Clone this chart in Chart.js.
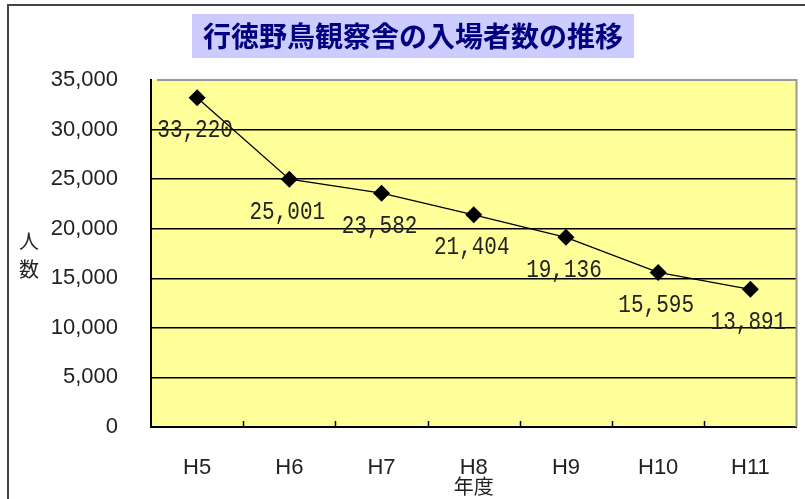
<!DOCTYPE html>
<html>
<head>
<meta charset="utf-8">
<script src="https://cdn.jsdelivr.net/npm/chart.js@4.4.0/dist/chart.umd.min.js"></script>
<style>
  html, body { margin: 0; padding: 0; background: #fff; }
  #wrap { position: relative; width: 805px; height: 499px; overflow: hidden; }
  #frame { position: absolute; left: 7px; top: 4px; width: 900px; height: 600px;
           border-left: 2px solid #444; border-top: 2px solid #444; pointer-events: none; }
  canvas { position: absolute; left: 0; top: 0; }
</style>
</head>
<body>
<div id="wrap">
  <canvas id="visitorChart" width="805" height="499"></canvas>
  <div id="frame"></div>
</div>
<script>
// 年度と入場者数
const years = ['H5', 'H6', 'H7', 'H8', 'H9', 'H10', 'H11'];
const visitors = [33220, 25001, 23582, 21404, 19136, 15595, 13891];
const yTicks = [0, 5000, 10000, 15000, 20000, 25000, 30000, 35000];

const chartTitle = '行徳野鳥観察舎の入場者数の推移';
const yTitle = ['人', '数'];
const xTitle = '年度';

function fmt(v) {
    return Number(v).toLocaleString('en-US');
}

// 背景・枠・タイトル・ラベルを描くプラグイン
const decorPlugin = {
    id: 'decor',
    beforeDraw(chart) {
        const c = chart.ctx, a = chart.chartArea;
        c.save();
        c.fillStyle = '#ffff99';
        c.fillRect(a.left, a.top, a.right - a.left, a.bottom - a.top);
        c.restore();
    },
    afterDatasetsDraw(chart) {
        const c = chart.ctx, a = chart.chartArea;
        const xs = chart.scales.x;
        c.save();
        // 右と上の枠
        c.strokeStyle = '#999';
        c.lineWidth = 2;
        c.beginPath();
        c.moveTo(a.left + 6, a.top);
        c.lineTo(a.right, a.top);
        c.lineTo(a.right, a.bottom);
        c.stroke();
        // 区切りの目盛り（内側）
        c.strokeStyle = '#000';
        c.lineWidth = 1.5;
        for (let i = 1; i < years.length; i++) {
            const px = Math.round(xs.getPixelForValue(i - 0.5)) + 0.5;
            c.beginPath();
            c.moveTo(px, a.bottom);
            c.lineTo(px, a.bottom - 6);
            c.stroke();
        }
        // データラベル
        const meta = chart.getDatasetMeta(0);
        c.fillStyle = '#222';
        c.font = '25px "Liberation Mono"';
        c.textAlign = 'center';
        c.textBaseline = 'middle';
        meta.data.forEach(function(pt, i) {
            c.save();
            c.translate(pt.x - 2, pt.y + 33);
            c.scale(0.84, 1);
            c.fillText(fmt(visitors[i]), 0, 0);
            c.restore();
        });
        c.restore();
    },
    afterDraw(chart) {
        const c = chart.ctx, a = chart.chartArea;
        c.save();
        // タイトル
        c.font = 'bold 28px "Noto Sans CJK JP"';
        c.textAlign = 'center';
        c.textBaseline = 'middle';
        const cx = 413, cy = 36;
        const w = c.measureText(chartTitle).width + 22;
        c.fillStyle = '#ccccff';
        c.fillRect(cx - w / 2, 14, w, 44);
        c.fillStyle = '#000080';
        c.fillText(chartTitle, cx, cy);
        // 軸タイトル
        c.fillStyle = '#222';
        c.font = '20px "Noto Sans CJK JP"';
        c.fillText(yTitle[0], 29, 241);
        c.fillText(yTitle[1], 29, 269);
        c.fillText(xTitle, (a.left + a.right) / 2, 486);
        c.restore();
    }
};

const ctx = document.getElementById('visitorChart').getContext('2d');
const visitorChart = new Chart(ctx, {
    type: 'line',
    data: {
        labels: years,
        datasets: [{
            label: '入場者数',
            data: visitors,
            borderColor: '#000',
            borderWidth: 1.3,
            pointStyle: 'rectRot',
            pointRadius: 8.5,
            pointBackgroundColor: '#000',
            pointBorderColor: '#000',
            pointBorderWidth: 0,
            tension: 0,
            fill: false
        }]
    },
    options: {
        responsive: false,
        animation: false,
        layout: { padding: { left: 0, right: 6, top: 80, bottom: 0 } },
        plugins: {
            legend: { display: false },
            tooltip: { enabled: false },
            title: { display: false }
        },
        scales: {
            x: {
                offset: true,
                grid: { display: false, drawTicks: false },
                border: { color: '#000', width: 2 },
                ticks: {
                    padding: 28,
                    color: '#222',
                    font: { family: '"Liberation Sans"', size: 22 }
                },
                afterFit: function(scale) { scale.height = 72; }
            },
            y: {
                min: 0,
                max: 35000,
                afterBuildTicks: function(scale) {
                    scale.ticks = yTicks.map(function(v) { return { value: v }; });
                },
                grid: {
                    drawTicks: false,
                    color: function(c) { return c.tick && c.tick.value === 35000 ? 'rgba(0,0,0,0)' : '#000'; },
                    lineWidth: 1.5
                },
                border: { color: '#000', width: 2 },
                ticks: {
                    padding: 33,
                    color: '#222',
                    font: { family: '"Liberation Sans"', size: 22 },
                    callback: function(v) { return fmt(v); }
                },
                afterFit: function(scale) { scale.width = 151; }
            }
        }
    },
    plugins: [decorPlugin]
});
</script>
</body>
</html>
